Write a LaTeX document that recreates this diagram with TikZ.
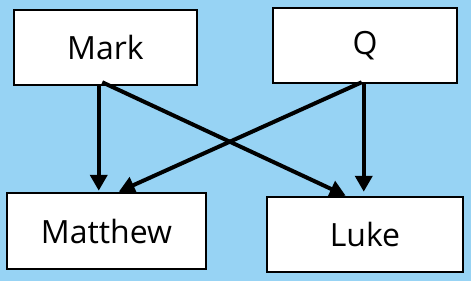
\documentclass[tikz,border=0pt]{standalone}
\usepackage{fontspec}
\setmainfont{Open Sans}
\usetikzlibrary{arrows.meta,calc}
\definecolor{bgblue}{HTML}{97D3F4}
\begin{document}
\begin{tikzpicture}[x=1pt,y=-1pt,
  box/.style={draw=black,line width=2.5pt,fill=white,rectangle,inner sep=0pt,
    font=\fontsize{32}{38}\selectfont},
  link/.style={line width=4pt,-{Triangle[length=16pt,width=17pt]}}]
\fill[bgblue] (0,0) rectangle (471,281);
\useasboundingbox (0,0) rectangle (471,281);
\node[box,minimum width=183pt,minimum height=75pt] (mark) at (105.5,47.5) {Mark};
\node[box,minimum width=184pt,minimum height=75pt] (q) at (365,45.5) {Q};
\node[box,minimum width=199pt,minimum height=76pt] (matthew) at (106.5,231) {Matthew};
\node[box,minimum width=196pt,minimum height=75pt] (luke) at (365,234.5) {Luke};
\coordinate (m1) at ($(mark.south west)+(86,0)$);
\coordinate (m2) at ($(mark.south west)+(89.5,-4)$);
\coordinate (q1) at ($(q.south west)+(90,-2)$);
\coordinate (q2) at ($(q.south west)+(92,0)$);
\coordinate (t1) at ($(matthew.north west)+(93,-1)$);
\coordinate (t2) at ($(matthew.north west)+(113,0)$);
\coordinate (u1) at ($(luke.north west)+(80,0)$);
\coordinate (u2) at ($(luke.north west)+(98,-4)$);
\draw[link] (m1) -- (t1);
\draw[link] (m2) -- (u1);
\draw[link] (q1) -- (t2);
\draw[link] (q2) -- (u2);
\end{tikzpicture}
\end{document}
